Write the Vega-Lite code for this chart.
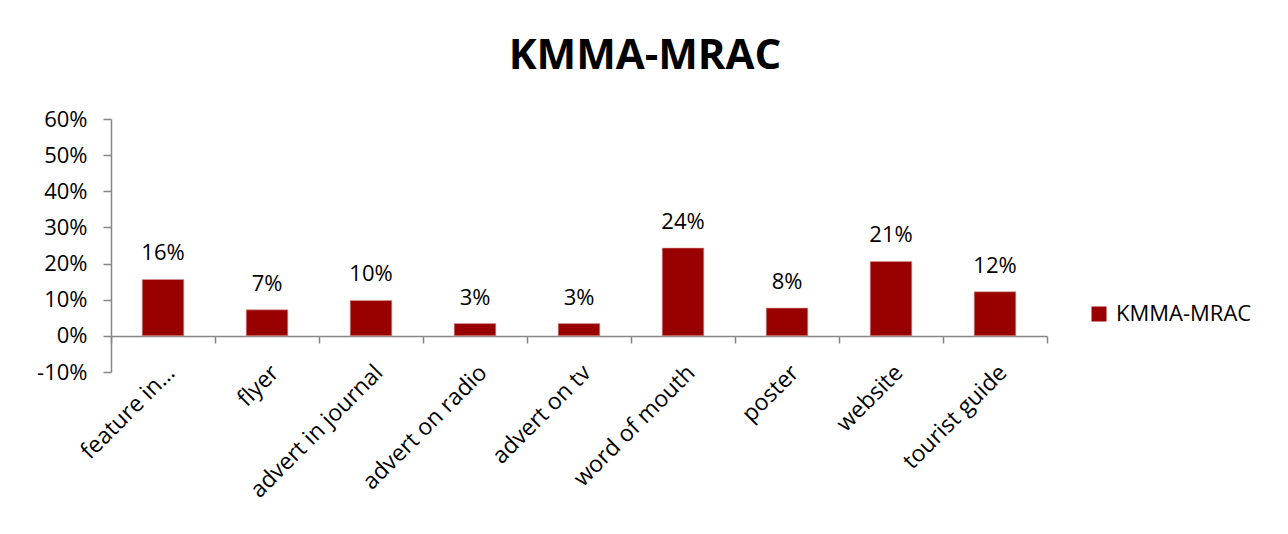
{
  "$schema": "https://vega.github.io/schema/vega-lite/v6.json",
  "autosize": {"type": "none"},
  "padding": {"left": 111, "top": 119, "right": 241, "bottom": 162},
  "width": 936,
  "height": 253,
  "background": "white",
  "config": {"view": {"stroke": null}},
  "title": {
    "text": "KMMA-MRAC",
    "font": "Open Sans",
    "fontSize": 42,
    "fontWeight": "bold",
    "color": "#000000",
    "anchor": "middle",
    "dx": 66,
    "offset": 30
  },
  "data": {
    "values": [
      {"source": "feature in…", "share": 0.156, "series": "KMMA-MRAC"},
      {"source": "flyer", "share": 0.072, "series": "KMMA-MRAC"},
      {"source": "advert in journal", "share": 0.098, "series": "KMMA-MRAC"},
      {"source": "advert on radio", "share": 0.034, "series": "KMMA-MRAC"},
      {"source": "advert on tv", "share": 0.034, "series": "KMMA-MRAC"},
      {"source": "word of mouth", "share": 0.243, "series": "KMMA-MRAC"},
      {"source": "poster", "share": 0.077, "series": "KMMA-MRAC"},
      {"source": "website", "share": 0.206, "series": "KMMA-MRAC"},
      {"source": "tourist guide", "share": 0.122, "series": "KMMA-MRAC"}
    ]
  },
  "encoding": {
    "x": {
      "field": "source",
      "type": "nominal",
      "sort": null,
      "scale": {"paddingInner": 0, "paddingOuter": 0},
      "axis": {
        "title": null,
        "labelAngle": -45,
        "labelAlign": "right",
        "labelBaseline": "top",
        "labelFont": "Open Sans",
        "labelFontSize": 23,
        "labelColor": "#000000",
        "labelPadding": 18,
        "tickBand": "extent",
        "tickSize": 7,
        "tickColor": "#868686",
        "domainColor": "#868686",
        "domainWidth": 1.5,
        "tickWidth": 1.5,
        "offset": -36,
        "labelLimit": 300
      }
    },
    "y": {
      "field": "share",
      "type": "quantitative",
      "scale": {"domain": [-0.1, 0.6], "nice": false, "zero": false},
      "axis": {
        "title": null,
        "values": [-0.1, 0, 0.1, 0.2, 0.3, 0.4, 0.5, 0.6],
        "format": ".0%",
        "labelExpr": "replace(datum.label, '−', '-')",
        "grid": false,
        "labelFont": "Open Sans",
        "labelFontSize": 22,
        "labelColor": "#000000",
        "labelPadding": 16,
        "tickSize": 8,
        "tickColor": "#868686",
        "domainColor": "#868686",
        "domainWidth": 1.5,
        "tickWidth": 1.5
      }
    }
  },
  "layer": [
    {
      "mark": {"type": "bar", "color": "#990000", "stroke": "#d9a0a0", "strokeWidth": 0.6, "width": {"band": 0.4}},
      "encoding": {
        "color": {
          "field": "series",
          "type": "nominal",
          "scale": {"range": ["#990000"]},
          "legend": {
            "title": null,
            "orient": "none",
            "legendX": 977,
            "legendY": 184,
            "symbolType": "square",
            "symbolSize": 225,
            "symbolStrokeWidth": 0,
            "labelFont": "Open Sans",
            "labelFontSize": 22,
            "labelColor": "#000000",
            "labelOffset": 6
          }
        }
      }
    },
    {
      "mark": {"type": "text", "font": "Open Sans", "fontSize": 22, "color": "#000000", "baseline": "alphabetic", "dy": -19},
      "encoding": {
        "text": {"field": "share", "type": "quantitative", "format": ".0%"}
      }
    }
  ]
}
